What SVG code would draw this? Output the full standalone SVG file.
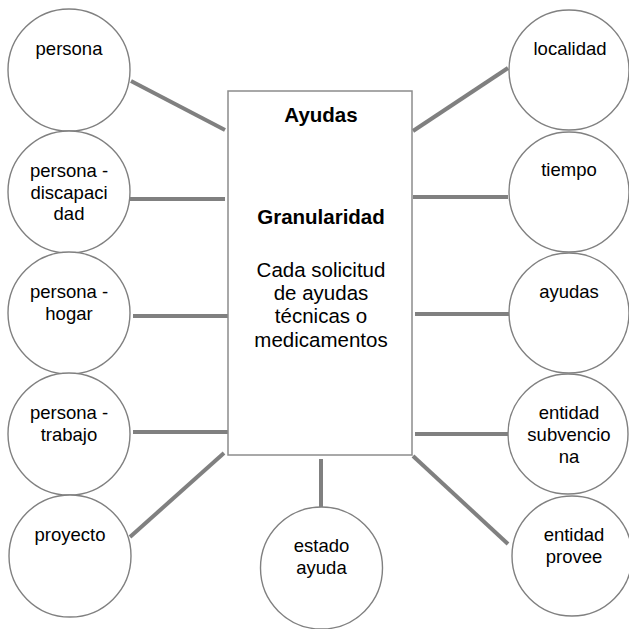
<svg xmlns="http://www.w3.org/2000/svg" width="629" height="629" viewBox="0 0 629 629">
<style>
.c{fill:#fff;stroke:#808080;stroke-width:1.4}
.t{font-family:"Liberation Sans",Arial,sans-serif;font-size:18.5px;fill:#000;text-anchor:middle}
.b{font-family:"Liberation Sans",Arial,sans-serif;font-size:20.5px;fill:#000;text-anchor:middle}
.bb{font-weight:bold}
.l{stroke:#808080;stroke-width:4;fill:none}
</style>
<rect width="629" height="629" fill="#fff"/>
<g id="connectors">
<line class="l" x1="131" y1="81" x2="225" y2="130"/>
<line class="l" x1="128" y1="199" x2="225" y2="199"/>
<line class="l" x1="133" y1="316" x2="228" y2="316"/>
<line class="l" x1="133" y1="432" x2="228" y2="432"/>
<line class="l" x1="130" y1="537" x2="224" y2="453"/>
<line class="l" x1="321" y1="459" x2="321" y2="507"/>
<line class="l" x1="413" y1="131" x2="508" y2="68"/>
<line class="l" x1="413" y1="197" x2="508" y2="197"/>
<line class="l" x1="415" y1="314" x2="509" y2="314"/>
<line class="l" x1="415" y1="434" x2="509" y2="434"/>
<line class="l" x1="413" y1="456" x2="508" y2="544"/>
</g>
<g id="ayudas-fact">
<rect x="228" y="91" width="184" height="364" fill="#fff" stroke="#8c8c8c" stroke-width="1.5"/>
<text class="b bb" x="321" y="122">Ayudas</text>
<text class="b bb" x="321" y="224">Granularidad</text>
<text class="b" x="321" y="277">Cada solicitud</text>
<text class="b" x="321" y="300">de ayudas</text>
<text class="b" x="321" y="323">técnicas o</text>
<text class="b" x="321" y="347">medicamentos</text>
</g>
<g id="persona"><circle class="c" cx="69" cy="70" r="61"/><text class="t" x="69" y="55">persona</text></g>
<g id="persona-discapacidad"><circle class="c" cx="69" cy="192" r="61"/><text class="t" x="69" y="177">persona -</text><text class="t" x="69" y="198.5">discapaci</text><text class="t" x="69" y="220">dad</text></g>
<g id="persona-hogar"><circle class="c" cx="69" cy="313" r="61"/><text class="t" x="69" y="298">persona -</text><text class="t" x="69" y="319.5">hogar</text></g>
<g id="persona-trabajo"><circle class="c" cx="69" cy="434" r="61"/><text class="t" x="69" y="419">persona -</text><text class="t" x="69" y="440.5">trabajo</text></g>
<g id="proyecto"><circle class="c" cx="70" cy="556" r="61"/><text class="t" x="70" y="541">proyecto</text></g>
<g id="estado-ayuda"><circle class="c" cx="321.5" cy="568" r="61"/><text class="t" x="321.5" y="552">estado</text><text class="t" x="321.5" y="573.5">ayuda</text></g>
<g id="localidad"><circle class="c" cx="569" cy="70" r="60"/><text class="t" x="570" y="55">localidad</text></g>
<g id="tiempo"><circle class="c" cx="569" cy="192" r="60"/><text class="t" x="569" y="176">tiempo</text></g>
<g id="ayudas"><circle class="c" cx="569" cy="313" r="60"/><text class="t" x="569" y="298">ayudas</text></g>
<g id="entidad-subvenciona"><circle class="c" cx="568" cy="434" r="60"/><text class="t" x="569" y="419">entidad</text><text class="t" x="569" y="441">subvencio</text><text class="t" x="569" y="462.5">na</text></g>
<g id="entidad-provee"><circle class="c" cx="572" cy="556" r="60"/><text class="t" x="574" y="541">entidad</text><text class="t" x="574" y="562.5">provee</text></g>
</svg>
